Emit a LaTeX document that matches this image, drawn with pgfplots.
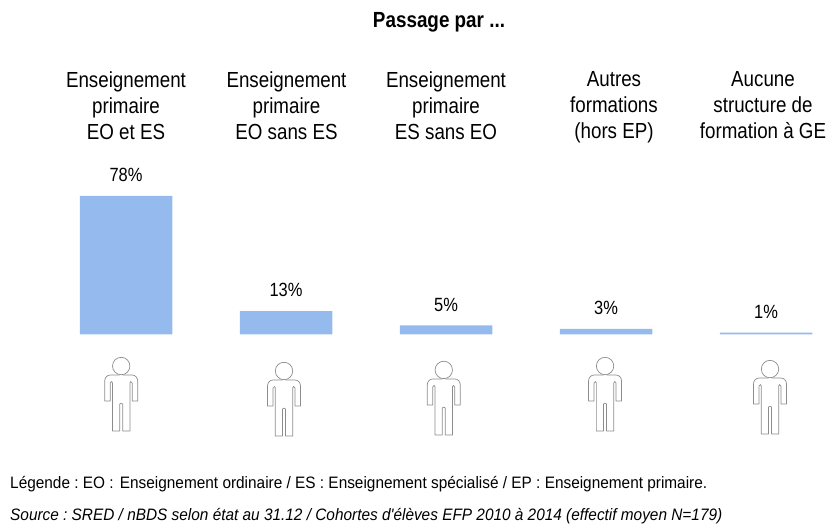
\documentclass[border=0pt]{standalone}
\usepackage{pgfplots}
\pgfplotsset{compat=1.18}
\usepackage{fontspec}
\setmainfont[FakeStretch=0.86]{Liberation Sans}
\newfontfamily\footfont[FakeStretch=0.93]{Liberation Sans}
\frenchspacing
\definecolor{barc}{HTML}{95BBEE}
\definecolor{pers}{HTML}{8C8C8C}
\pgfdeclareplotmark{person}{%
 \begin{scope}[x=1bp,y=1bp,line width=0.7bp,draw=pers,fill=none,line join=round]
 \draw (0,0) circle (8.7);
 \draw (-1.5,-9) -- (-11,-9) to[out=180,in=90] (-16.5,-15) -- (-16.5,-35) -- (-11,-35) -- (-11,-17) to[out=90,in=180] (-9.5,-15.5) to[out=0,in=90] (-8.7,-17) -- (-8.7,-65) -- (-1.5,-65) -- (-1.5,-38) to[out=90,in=90] (1.5,-38) -- (1.5,-65) -- (8.7,-65) -- (8.7,-17) to[out=90,in=180] (9.5,-15.5) to[out=0,in=90] (11,-17) -- (11,-35) -- (16.5,-35) -- (16.5,-15) to[out=90,in=0] (11,-9) -- (1.5,-9);
 \end{scope}}
\begin{document}
\begin{tikzpicture}[x=1bp,y=1bp]
\path[use as bounding box] (0,0) rectangle (837,526);
\begin{axis}[
 at={(0,0)},anchor=south west,
 scale only axis,width=837bp,height=526bp,
 axis lines=none,clip=false,
 xmin=-0.7875,xmax=4.44375,
 ymin=-108.12,ymax=188.55,
 /pgf/number format/assume math mode=true,
]
\addplot[ybar,bar width=92.5bp,bar shift=0pt,fill=barc,draw=none,
 nodes near coords={\fontsize{19.2}{21}\selectfont\pgfmathprintnumber[fixed,precision=0]{\pgfplotspointmeta}\%},
 every node near coord/.append style={anchor=south,inner sep=0pt,yshift=14bp,text=black}]
 coordinates {(0,78)(1,13)(2,5)(3,3)(4,1)};
\addplot[only marks,mark=person,forget plot] coordinates {(-0.03,-17.9)(0.9875,-20.7)(1.986,-20.1)(2.994,-17.9)(4.025,-19.6)};
\end{axis}
\begin{scope}[every node/.style={font=\fontsize{21.9}{26.2}\selectfont,align=center,anchor=north,inner sep=0pt,text=black}]
\node at (126,526-71) {Enseignement\\primaire\\EO et ES};
\node at (286.5,526-71) {Enseignement\\primaire\\EO sans ES};
\node at (446,526-71) {Enseignement\\primaire\\ES sans EO};
\node at (614,526-71) {Autres\\formations\\(hors EP)};
\node at (763,526-71) {Aucune\\structure de\\formation à GE};
\end{scope}
\node[font=\bfseries\fontsize{22}{24}\selectfont,anchor=base,inner sep=0pt] at (439,526-27.5) {Passage par ...};
\node[font=\footfont\fontsize{16.6}{18}\selectfont,anchor=base west,inner sep=0pt] at (10,526-489) {Légende : EO :\hspace{2bp} Enseignement ordinaire / ES : Enseignement spécialisé / EP : Enseignement primaire.};
\node[font=\footfont\itshape\fontsize{16.6}{18}\selectfont,anchor=base west,inner sep=0pt] at (10,526-520.5) {Source : SRED / nBDS selon état au 31.12 / Cohortes d'élèves EFP 2010 à 2014 (effectif moyen N=179)};
\end{tikzpicture}
\end{document}
